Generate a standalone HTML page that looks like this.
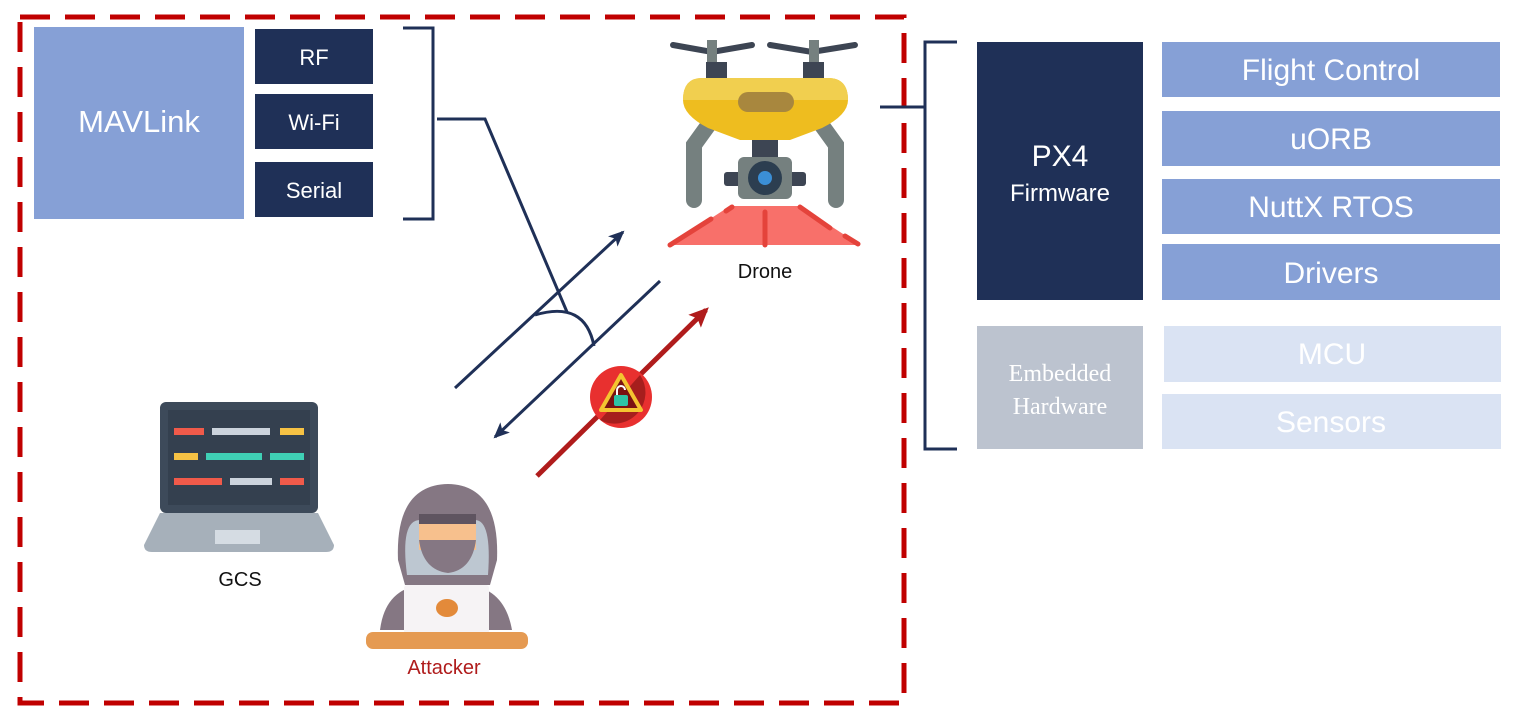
<!DOCTYPE html>
<html><head><meta charset="utf-8"><style>
html,body{margin:0;padding:0;background:#fff;width:1521px;height:723px;overflow:hidden}
svg{display:block;font-family:"Liberation Sans",sans-serif}
</style></head><body>
<svg width="1521" height="723" viewBox="0 0 1521 723">
<defs>
<marker id="ah" markerWidth="16" markerHeight="14" refX="14" refY="7" orient="auto" markerUnits="userSpaceOnUse"><path d="M0,0 L16,7 L0,14 L4,7 Z" fill="#1f3057"/></marker>
<marker id="ahr" markerWidth="20" markerHeight="18" refX="16" refY="9" orient="auto" markerUnits="userSpaceOnUse"><path d="M0,0 L20,9 L0,18 L4,9 Z" fill="#b01c1c"/></marker>
</defs>
<rect x="20" y="17" width="884" height="686" fill="none" stroke="#c00000" stroke-width="5" stroke-dasharray="30 15"/>

<g>
<rect x="34" y="27" width="210" height="192" fill="#86a0d6"/>
<text x="139" y="132" text-anchor="middle" font-size="31" fill="#fff">MAVLink</text>
<rect x="255" y="29" width="118" height="55" fill="#1f3057"/>
<text x="314" y="65" text-anchor="middle" font-size="22" fill="#fff">RF</text>
<rect x="255" y="94" width="118" height="55" fill="#1f3057"/>
<text x="314" y="130" text-anchor="middle" font-size="22" fill="#fff">Wi-Fi</text>
<rect x="255" y="162" width="118" height="55" fill="#1f3057"/>
<text x="314" y="198" text-anchor="middle" font-size="22" fill="#fff">Serial</text>
<path d="M403,28 H433 V219 H403" fill="none" stroke="#1f3057" stroke-width="3"/>
<path d="M437,119 H485 L567,312" fill="none" stroke="#1f3057" stroke-width="3"/>
<path d="M535,315 Q585,300 594,346" fill="none" stroke="#1f3057" stroke-width="3"/>
</g>

<line x1="455" y1="388" x2="623" y2="232" stroke="#1f3057" stroke-width="3" marker-end="url(#ah)"/>
<line x1="660" y1="281" x2="495" y2="437" stroke="#1f3057" stroke-width="3" marker-end="url(#ah)"/>
<line x1="537" y1="476" x2="706" y2="310" stroke="#b01c1c" stroke-width="5" marker-end="url(#ahr)"/>
<g>
<circle cx="621" cy="397" r="31" fill="#e8302f"/>
<path d="M640,375 A31,31 0 0 1 600,420 Z" fill="#7a1212" opacity="0.6"/>
<path d="M621,375 L641,410 L601,410 Z" fill="#7a1212" stroke="#f4c430" stroke-width="4" stroke-linejoin="round"/>
<rect x="614" y="395" width="14" height="11" rx="2" fill="#2ec4a5"/>
<path d="M617,395 V390 A4,4 0 0 1 625,390" fill="none" stroke="#fff" stroke-width="2"/>
</g>

<g>
<path d="M673,45 L712,52 L752,45" fill="none" stroke="#3d4553" stroke-width="6" stroke-linecap="round"/>
<path d="M770,45 L812,52 L855,45" fill="none" stroke="#3d4553" stroke-width="6" stroke-linecap="round"/>
<rect x="707" y="40" width="10" height="25" fill="#75807f"/>
<rect x="809" y="40" width="10" height="25" fill="#75807f"/>
<rect x="706" y="62" width="21" height="18" fill="#3d4553"/>
<rect x="803" y="62" width="21" height="18" fill="#3d4553"/>
<path d="M712,120 L694,145 L694,200" fill="none" stroke="#75807f" stroke-width="16" stroke-linecap="round"/>
<path d="M818,120 L836,145 L836,200" fill="none" stroke="#75807f" stroke-width="16" stroke-linecap="round"/>
<path d="M702,78 H828 Q848,78 848,100 Q848,115 822,128 L790,140 H740 L708,128 Q683,115 683,100 Q683,78 702,78 Z" fill="#eebd1f"/>
<path d="M702,78 H828 Q848,78 848,100 H683 Q683,78 702,78 Z" fill="#f1cf4f"/>
<rect x="738" y="92" width="56" height="20" rx="10" fill="#a8873e"/>
<rect x="752" y="140" width="26" height="20" fill="#3d4553"/>
<rect x="724" y="172" width="82" height="14" rx="3" fill="#3d4553"/>
<rect x="738" y="157" width="54" height="42" rx="6" fill="#75807f"/>
<circle cx="765" cy="178" r="17" fill="#2c3e50"/>
<circle cx="765" cy="178" r="7" fill="#3b8fd6"/>
<path d="M730,206 H800 L860,245 H670 Z" fill="#f8706a"/>
<path d="M670,245 L711,219 M726,211 L732,207 M765,212 V245 M800,207 L830,228 M845,236 L858,244" stroke="#e4433b" stroke-width="5" stroke-linecap="round"/>
</g>
<text x="765" y="278" text-anchor="middle" font-size="20" fill="#111">Drone</text>

<g>
<rect x="160" y="402" width="158" height="111" rx="6" fill="#3d4a5a"/>
<rect x="168" y="410" width="142" height="95" fill="#34404f"/>
<rect x="174" y="428" width="30" height="7" fill="#f05a4a"/><rect x="212" y="428" width="58" height="7" fill="#cbd3dc"/><rect x="280" y="428" width="24" height="7" fill="#f6c244"/>
<rect x="174" y="453" width="24" height="7" fill="#f6c244"/><rect x="206" y="453" width="56" height="7" fill="#3fd0b5"/><rect x="270" y="453" width="34" height="7" fill="#3fd0b5"/>
<rect x="174" y="478" width="48" height="7" fill="#f05a4a"/><rect x="230" y="478" width="42" height="7" fill="#cbd3dc"/><rect x="280" y="478" width="24" height="7" fill="#f05a4a"/>
<path d="M160,513 H318 L334,545 Q334,552 326,552 H152 Q144,552 144,545 Z" fill="#a6b0ba"/>
<rect x="215" y="530" width="45" height="14" fill="#d5dce3"/>
</g>
<text x="240" y="586" text-anchor="middle" font-size="20" fill="#111">GCS</text>

<g>
<path d="M380,630 Q385,590 420,585 H470 Q505,590 512,630 Z" fill="#857783"/>
<path d="M398,560 Q395,485 448,484 Q500,485 497,560 L490,585 H405 Z" fill="#857783"/>
<path d="M407,575 Q400,520 420,520 H475 Q492,520 488,575 Z" fill="#bdc7d1"/>
<rect x="419" y="520" width="57" height="30" fill="#f7c08d"/>
<rect x="419" y="514" width="57" height="10" fill="#5f5460"/>
<path d="M419,540 H476 Q472,570 448,573 Q423,570 419,540 Z" fill="#857783"/>
<rect x="404" y="585" width="85" height="50" rx="3" fill="#f6f3f5"/>
<ellipse cx="447" cy="608" rx="11" ry="9" fill="#e38a3a"/>
<rect x="366" y="632" width="162" height="17" rx="7" fill="#e59a52"/>
</g>
<text x="444" y="674" text-anchor="middle" font-size="20" fill="#b01c1c">Attacker</text>

<line x1="880" y1="107" x2="925" y2="107" stroke="#1f3057" stroke-width="3"/>
<path d="M957,42 H925 V449 H957" fill="none" stroke="#1f3057" stroke-width="3"/>

<rect x="977" y="42" width="166" height="258" fill="#1f3057"/>
<text x="1060" y="166" text-anchor="middle" font-size="30" fill="#fff">PX4</text>
<text x="1060" y="201" text-anchor="middle" font-size="24" fill="#fff">Firmware</text>
<rect x="1162" y="42" width="338" height="55" fill="#86a0d6"/>
<text x="1331" y="80" text-anchor="middle" font-size="30" fill="#fff">Flight Control</text>
<rect x="1162" y="111" width="338" height="55" fill="#86a0d6"/>
<text x="1331" y="149" text-anchor="middle" font-size="30" fill="#fff">uORB</text>
<rect x="1162" y="179" width="338" height="55" fill="#86a0d6"/>
<text x="1331" y="217" text-anchor="middle" font-size="30" fill="#fff">NuttX RTOS</text>
<rect x="1162" y="244" width="338" height="56" fill="#86a0d6"/>
<text x="1331" y="283" text-anchor="middle" font-size="30" fill="#fff">Drivers</text>

<rect x="977" y="326" width="166" height="123" fill="#bcc3cf"/>
<text x="1060" y="381" text-anchor="middle" font-size="24" fill="#fff" font-family="Liberation Serif,serif">Embedded</text>
<text x="1060" y="414" text-anchor="middle" font-size="24" fill="#fff" font-family="Liberation Serif,serif">Hardware</text>
<rect x="1164" y="326" width="337" height="56" fill="#dae3f3"/>
<text x="1332" y="364" text-anchor="middle" font-size="30" fill="#fff">MCU</text>
<rect x="1162" y="394" width="339" height="55" fill="#dae3f3"/>
<text x="1331" y="432" text-anchor="middle" font-size="30" fill="#fff">Sensors</text>
</svg>
</body></html>
